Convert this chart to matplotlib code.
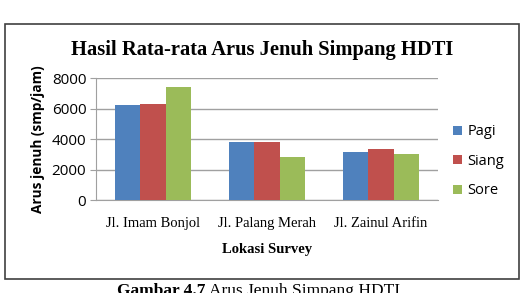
import numpy as np
import matplotlib
matplotlib.use('Agg')
import matplotlib.pyplot as plt
from matplotlib.patches import Rectangle

lokasi = ['Jl. Imam Bonjol', 'Jl. Palang Merah', 'Jl. Zainul Arifin']
pagi = [6280, 3850, 3160]
siang = [6340, 3830, 3340]
sore = [7410, 2830, 3070]
y_ticks = [0, 2000, 4000, 6000, 8000]

warna = ['#4F81BD', '#C0504D', '#9BBB59']
label_seri = ['Pagi', 'Siang', 'Sore']

fig = plt.figure(figsize=(5.27, 2.93), dpi=100)

# frame around the chart
fig.patches.append(Rectangle((5 / 527, 1 - 279 / 293), 514 / 527, 255 / 293,
                             transform=fig.transFigure, fill=False,
                             edgecolor='#404040', linewidth=1.2))

ax = fig.add_axes([0.1822, 0.3157, 0.6489, 0.4171])
x = np.arange(len(lokasi))
w = 0.222
for i, (data, c, lab) in enumerate(zip([pagi, siang, sore], warna, label_seri)):
    ax.bar(x + (i - 1) * w, data, w, color=c, label=lab, zorder=3)

ax.set_xlim(-0.5, 2.5)
ax.set_ylim(0, 8000)
ax.set_yticks(y_ticks)
ax.set_yticklabels([str(v) for v in y_ticks], fontsize=11, family='Open Sans')
ax.set_xticks(x)
ax.set_xticklabels(lokasi, fontsize=10.5, family='Liberation Serif')
ax.tick_params(axis='x', length=0, pad=12)
ax.tick_params(axis='y', length=4, color='#A0A0A0', pad=3)
ax.grid(axis='y', color='#A0A0A0', linewidth=1, zorder=0)
for s in ['top', 'right']:
    ax.spines[s].set_visible(False)
ax.spines['left'].set_color('#A0A0A0')
ax.spines['bottom'].set_color('#A0A0A0')

ax.set_ylabel('Arus jenuh (smp/jam)', fontsize=9.8, fontweight='bold', family='Open Sans', labelpad=5)
ax.set_xlabel('Lokasi Survey', fontsize=10.5, fontweight='bold', family='Liberation Serif', labelpad=9)

fig.text(262 / 527, 1 - 50 / 293, 'Hasil Rata-rata Arus Jenuh Simpang HDTI', ha='center', va='center',
         fontsize=14.8, fontweight='bold', family='Liberation Serif')

ax.legend(loc='center left', bbox_to_anchor=(1.005, 0.32), frameon=False, handlelength=0.6,
          handleheight=0.6, handletextpad=0.4, labelspacing=1.0,
          prop={'family': 'Open Sans', 'size': 10.5})

# caption under the frame (cut off by the page edge)
cap1 = fig.text(117 / 527, 1 - 283 / 293, 'Gambar 4.7', ha='left', va='top', fontsize=12.5,
                fontweight='bold', family='Liberation Serif')
fig.canvas.draw()
bb = cap1.get_window_extent()
fig.text(bb.x1 / fig.bbox.width + 4 / 527, 1 - 283 / 293, 'Arus Jenuh Simpang HDTI', ha='left', va='top',
         fontsize=12.5, family='Liberation Serif')

fig.savefig('out.png', dpi=100)
